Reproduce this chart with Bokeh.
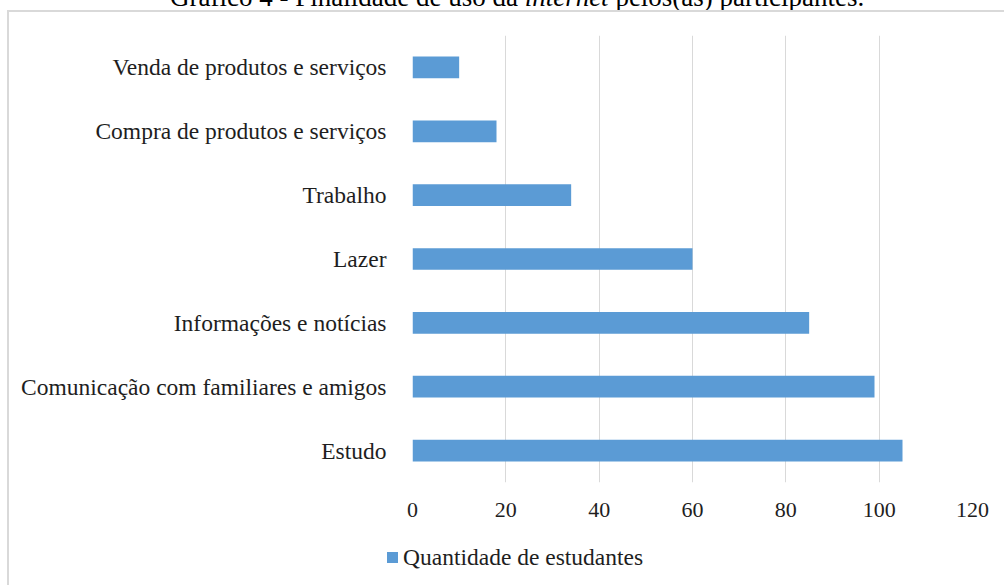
from bokeh.plotting import figure
from bokeh.models import FactorRange, Range1d, FixedTicker, ColumnDataSource, Div
from bokeh.layouts import column
from bokeh.embed import file_html
from bokeh.resources import INLINE

# ---- data ----
categories = [
    "Estudo",
    "Comunicação com familiares e amigos",
    "Informações e notícias",
    "Lazer",
    "Trabalho",
    "Compra de produtos e serviços",
    "Venda de produtos e serviços",
]
quantidade = [105, 99, 85, 60, 34, 18, 10]
x_ticks = [0, 20, 40, 60, 80, 100, 120]
series_name = "Quantidade de estudantes"
title_before = "Gráfico 4 - Finalidade de uso da"
title_italic = "internet"
title_after = "pelos(as) participantes."

FONT = "Liberation Serif"
BAR = "#5b9bd5"
GRID = "#d9d9d9"
TXT = "#1e1e1e"

LEFT_LINE = "linear-gradient(#d9d9d9,#d9d9d9) 7px 0px / 2px 100% no-repeat"
TOP_LINE = "linear-gradient(#d9d9d9,#d9d9d9) 7px 0px / 100% 2px no-repeat"

# ---- title (cut at the top of the page, as in the source) ----
title_html = (
    '<span style="position:absolute; left:170px; top:-16px; white-space:nowrap; '
    "font-family:'Liberation Serif'; font-size:27px; line-height:27px; color:#000;\">"
    f"{title_before} <i>{title_italic}</i> {title_after}</span>"
)
title_div = Div(text=title_html, width=1004, height=10, margin=0,
                styles={"position": "relative", "overflow": "visible"})

# ---- chart ----
src = ColumnDataSource(dict(cat=categories, val=quantidade))

p = figure(width=1004, height=530, output_backend="svg", toolbar_location=None,
           y_range=FactorRange(factors=categories), x_range=Range1d(0, 120),
           min_border_left=412, min_border_right=32, min_border_top=25, min_border_bottom=58)
p.outline_line_color = None
p.background_fill_color = "white"
p.border_fill_alpha = 0
p.styles = {"background": f"{LEFT_LINE}, {TOP_LINE}, #ffffff"}

r = p.hbar(y="cat", right="val", height=0.34, source=src, color=BAR, line_color=None)

p.xaxis.ticker = FixedTicker(ticks=x_ticks)
p.xaxis.axis_line_color = None
p.xaxis.major_tick_line_color = None
p.xaxis.minor_tick_line_color = None
p.xaxis.major_label_text_font = FONT
p.xaxis.major_label_text_font_size = "22px"
p.xaxis.major_label_text_color = TXT
p.xaxis.major_label_standoff = 14

p.yaxis.axis_line_color = None
p.yaxis.major_tick_line_color = None
p.yaxis.minor_tick_line_color = None
p.yaxis.major_label_text_font = FONT
p.yaxis.major_label_text_font_size = "23.5px"
p.yaxis.major_label_text_color = TXT
p.yaxis.major_label_standoff = 20

p.xgrid.grid_line_color = GRID
p.xgrid.grid_line_width = 1
p.ygrid.grid_line_color = None

# ---- legend (below the chart) ----
legend_html = (
    f'<span style="position:absolute; left:387px; top:12px; width:11px; height:11px; '
    f'background:{BAR};"></span>'
    '<span style="position:absolute; left:403px; top:5px; white-space:nowrap; '
    f"font-family:'Liberation Serif'; font-size:23.5px; line-height:24px; color:{TXT};\">"
    f"{series_name}</span>"
)
legend_div = Div(text=legend_html, width=1004, height=45, margin=0,
                 styles={"position": "relative", "overflow": "visible",
                         "background": f"{LEFT_LINE}, #ffffff"})

layout = column(title_div, p, legend_div, spacing=0)
open("out.html", "w").write(file_html(layout, INLINE))
